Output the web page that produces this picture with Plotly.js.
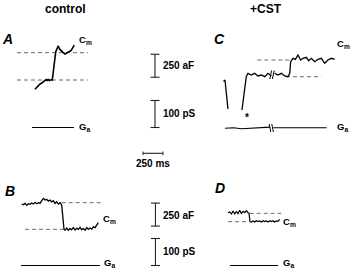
<!DOCTYPE html>
<html><head><meta charset="utf-8">
<script src="https://cdn.plot.ly/plotly-3.0.1.min.js"></script>
<style>html,body{margin:0;padding:0;background:#fff}#g{width:352px;height:276px}</style>
</head><body><div id="g"></div>
<script>
// ---- data (time in ms from trace start, Cm in aF from lower baseline, Ga in pS) ----
const tA  = [0, 15, 30, 45, 60, 80, 100, 120, 140, 150, 165, 180, 200, 216, 230, 241, 259, 275, 291, 308, 325, 350, 375, 395, 416, 435, 450, 470, 491];
const cmA = [-100, -85, -75, -60, -45, -35, -20, -10, 5, -5, 5, -5, 3, 0, 100, 217, 308, 340, 370, 335, 318, 300, 283, 295, 308, 312, 318, 350, 380];
const levelsA = [0, 297];
const tGaA = [-37, 487];
const gaA  = [0, 0];

const tB  = [0,21,42,63,83,104,125,146,167,188,208,229,250,271,292,313,333,354,375,396,417,438,458,479,500,513,529,542,563,583,604,625,646,667,688,708,729,750,771,792,813,833,854,875,896,917,938,958];
const cmB = [275,268,282,260,278,271,286,275,293,278,289,282,311,336,318,326,307,318,297,311,282,300,275,289,264,137,-1,-8,14,-11,7,-4,18,-8,10,-1,21,-4,7,-11,18,-1,14,3,28,18,47,72];
const levelsB = [0, 289];
const tGaB = [-9, 979];
const gaB  = [0, 0];

const tC  = [6, 25, 62, null, 237, 291, 312, 354, 396, 437, 479, 521, 562, 604, null, 646, 687, 729, 771, 812, 834, 846, 875, 904, 937, 971, 1000, 1041, 1071, 1104, 1146, 1187, 1229, 1271, 1312, 1354, 1396];
const cmC = [-52, -36, -351, null, -362, 0, 37, 18, 37, 8, 18, 0, 37, 8, null, 37, 18, 37, 8, 0, 37, 163, 200, 189, 236, 182, 200, 211, 174, 200, 163, 189, 200, 146, 182, 200, 189];
const levelsC = [0, 181];
const tGaC = [25, 129, 234, 379, 546, 588, null, 629, 796, 1046, 1296];
const gaC  = [-2, 0, -4, -2, 2, 2, null, 0, 0, 0, 0];

const tD  = [0,21,42,63,83,104,125,146,167,188,208,229,250,263,275,292,313,333,354,375,396,417,438,458,479,500,521,542,563,583,604,625,646];
const cmD = [98,106,84,116,84,109,87,124,91,113,98,120,98,91,1,-3,8,-3,11,1,8,-3,11,1,8,-3,11,1,11,-3,8,4,26];
const levelsD = [0, 91];
const tGaD = [25, 625];
const gaD  = [0, 0];

const scaleCm = 250, scalePS = 100, scaleMs = 250;
const panelLetters = ['A', 'B', 'C', 'D'];
const groupTitles = ['control', '+CST'];

// ---- layout geometry ----
const W = 352, H = 276;
const MSPX = 12.5, AFPX = 250 / 23, PSPX = 100 / 27;
const FONT = 'Liberation Sans, Arial, sans-serif';
function xax(p0){ return {domain:[0,1], range:[-p0*MSPX, (W-p0)*MSPX], visible:false, fixedrange:true}; }
function yax(p0, k){ return {domain:[0,1], range:[(p0-H)*k, p0*k], visible:false, fixedrange:true}; }
const px = p => p / W, py = p => 1 - p / H;

const traces = [];
function line(x, y, xa, ya, color, width, dash){
  traces.push({x:x, y:y, xaxis:xa, yaxis:ya, type:'scatter', mode:'lines', connectgaps:false,
    line:{color:color, width:width, dash:dash||'solid'}, hoverinfo:'skip', showlegend:false});
}
function dashed(levels, spans, xa, ya){
  const x = [], y = [];
  levels.forEach((lv, i) => { x.push(spans[i][0], spans[i][1], null); y.push(lv, lv, null); });
  line(x, y, xa, ya, '#6a6a6a', 1, '4px,3px');
}
function vbar(t, lo, hi, xa, ya){
  const c = 4.5 * MSPX;
  line([t, t, null, t-c, t+c, null, t-c, t+c], [lo, hi, null, lo, lo, null, hi, hi], xa, ya, '#222', 1.1);
}

// panel A
dashed(levelsA, [[-225, 662], [-225, 662]], 'x', 'y');
line(tA, cmA, 'x', 'y', '#000', 1.6);
line(tGaA, gaA, 'x', 'y2', '#000', 1.1);
// panel B
dashed(levelsB, [[41, 520], [500, 1008]], 'x2', 'y5');
line(tB, cmB, 'x2', 'y5', '#000', 1.3);
line(tGaB, gaB, 'x2', 'y6', '#000', 1.1);
// panel C
dashed(levelsC, [[787, 1229], [429, 837]], 'x3', 'y3');
line(tC, cmC, 'x3', 'y3', '#000', 1.3);
line(tGaC, gaC, 'x3', 'y4', '#000', 1.1);
// panel D
dashed(levelsD, [[0, 271], [271, 666]], 'x4', 'y7');
line(tD, cmD, 'x4', 'y7', '#000', 1.2);
line(tGaD, gaD, 'x4', 'y8', '#000', 1.1);
// scale bars
vbar(1500, 30, 30 + scaleCm, 'x', 'y');
vbar(1500, 0, scalePS, 'x', 'y2');
vbar(1672, 35, 35 + scaleCm, 'x2', 'y5');
vbar(1672, 0, scalePS, 'x2', 'y6');

const shapes = [];
const yMs = py(153.3);
shapes.push({type:'line', xref:'x', yref:'paper', x0:1350, x1:1350 + scaleMs, y0:yMs, y1:yMs, line:{color:'#222', width:1.1}});
[1350, 1350 + scaleMs].forEach(t => shapes.push({type:'line', xref:'x', yref:'paper', x0:t, x1:t, y0:yMs - 1.8/H, y1:yMs + 1.8/H, line:{color:'#222', width:1}}));
// break marks
function slash(x0, y0, x1, y1){ shapes.push({type:'line', xref:'paper', yref:'paper', x0:px(x0), y0:py(y0), x1:px(x1), y1:py(y1), line:{color:'#000', width:1}}); }
slash(269.8, 79, 271.6, 70.5); slash(272.4, 79, 274.2, 70.5);
slash(269.2, 124, 270.8, 132); slash(271.8, 124, 273.4, 132);

const anns = [];
function ann(text, x, y, size, xanchor){
  anns.push({text:text, xref:'paper', yref:'paper', x:px(x), y:py(y), xanchor:xanchor||'left', yanchor:'middle',
    showarrow:false, font:{family:FONT, size:size, color:'#000'}});
}
ann('<b>' + groupTitles[0] + '</b>', 65.5, 9, 12, 'center');
ann('<b>' + groupTitles[1] + '</b>', 265.5, 9, 12, 'center');
ann('<b><i>' + panelLetters[0] + '</i></b>', 7.5, 38.5, 14, 'center');
ann('<b><i>' + panelLetters[1] + '</i></b>', 10, 191, 14, 'center');
ann('<b><i>' + panelLetters[2] + '</i></b>', 219, 38.5, 14, 'center');
ann('<b><i>' + panelLetters[3] + '</i></b>', 220, 187.5, 14, 'center');
const cm = '<b>C<sub><span style="color:#000">m</span></sub></b>', ga = '<b>G<sub><span style="color:#000">a</span></sub></b>';
ann(cm, 77, 40, 9.5); ann(ga, 77, 127, 9.5);
ann(cm, 335, 44, 9.5); ann(ga, 335, 127, 9.5);
ann(cm, 101, 218.5, 9.5); ann(ga, 102, 262.5, 9.5);
ann(cm, 281, 222, 9.5); ann(ga, 281, 263, 9.5);
ann('<b>' + scaleCm + ' aF</b>', 161, 65.5, 10); ann('<b>' + scalePS + ' pS</b>', 161, 113.5, 10);
ann('<b>' + scaleCm + ' aF</b>', 161, 215, 10); ann('<b>' + scalePS + ' pS</b>', 161, 252, 10);
ann('<b>' + scaleMs + ' ms</b>', 152.5, 163, 10, 'center');
ann('<b>*</b>', 247, 117, 10, 'center');

const layout = {
  width:W, height:H, margin:{l:0, r:0, t:0, b:0},
  paper_bgcolor:'#fff', plot_bgcolor:'rgba(0,0,0,0)', showlegend:false,
  xaxis:xax(35), xaxis2:xax(21.7), xaxis3:xax(223), xaxis4:xax(228),
  yaxis:yax(80, AFPX), yaxis2:yax(127.5, PSPX), yaxis3:yax(76.7, AFPX), yaxis4:yax(127.7, PSPX),
  yaxis5:yax(229.3, AFPX), yaxis6:yax(265.5, PSPX), yaxis7:yax(221.7, AFPX), yaxis8:yax(265.5, PSPX),
  shapes:shapes, annotations:anns, hovermode:false
};
Plotly.newPlot('g', traces, layout, {staticPlot:true, displayModeBar:false});
</script></body></html>
